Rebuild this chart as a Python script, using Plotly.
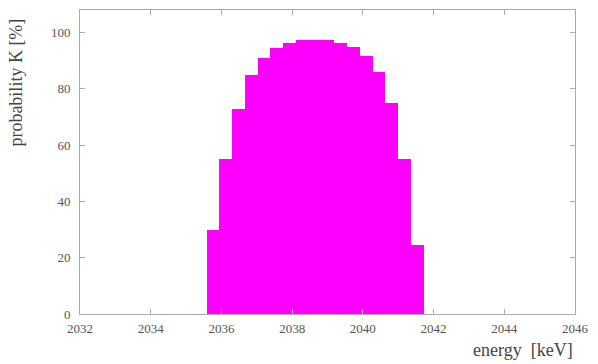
import plotly.graph_objects as go

# Histogram bins (keV) and probability per bin (%)
bin_start = 2035.58
bin_width = 0.361
probability = [30, 55, 73, 85, 91, 94.6, 96.3, 97.2, 97.4, 97.2, 96.2,
               94.8, 91.8, 86, 75, 55, 24.5]
x_ticks = [2032, 2034, 2036, 2038, 2040, 2042, 2044, 2046]
y_ticks = [0, 20, 40, 60, 80, 100]

centers = [bin_start + bin_width * (i + 0.5) for i in range(len(probability))]

fig = go.Figure(go.Bar(
    x=centers, y=probability, width=bin_width,
    marker=dict(color="#ff00ff", line=dict(width=0)),
))

serif = "Liberation Serif, Times New Roman, serif"
axis_common = dict(
    showgrid=False, zeroline=False, showline=True, linecolor="#aaaaaa",
    linewidth=1, mirror="ticks", ticks="inside", ticklen=5, tickcolor="#aaaaaa",
    tickfont=dict(family=serif, size=13, color="#555555"),
)

fig.update_layout(
    width=598, height=364,
    margin=dict(l=80, r=17, t=9, b=50),
    paper_bgcolor="white", plot_bgcolor="white",
    bargap=0, showlegend=False,
    xaxis=dict(range=[2032, 2046], tickvals=x_ticks,
               ticktext=[str(v) for v in x_ticks], ticklabelstandoff=2,
               **axis_common),
    yaxis=dict(range=[0, 108], tickvals=y_ticks,
               ticktext=[str(v) for v in y_ticks], ticklabelstandoff=6,
               **axis_common),
    annotations=[
        dict(text="probability K [%]", xref="paper", yref="paper",
             x=-0.13, y=0.76, textangle=-90, showarrow=False,
             xanchor="center", yanchor="middle",
             font=dict(family=serif, size=18, color="#444444")),
        dict(text="energy  [keV]", xref="paper", yref="paper",
             x=1.0, y=-0.118, showarrow=False,
             xanchor="right", yanchor="middle",
             font=dict(family=serif, size=18, color="#444444")),
    ],
)

fig.write_html("out.html")
